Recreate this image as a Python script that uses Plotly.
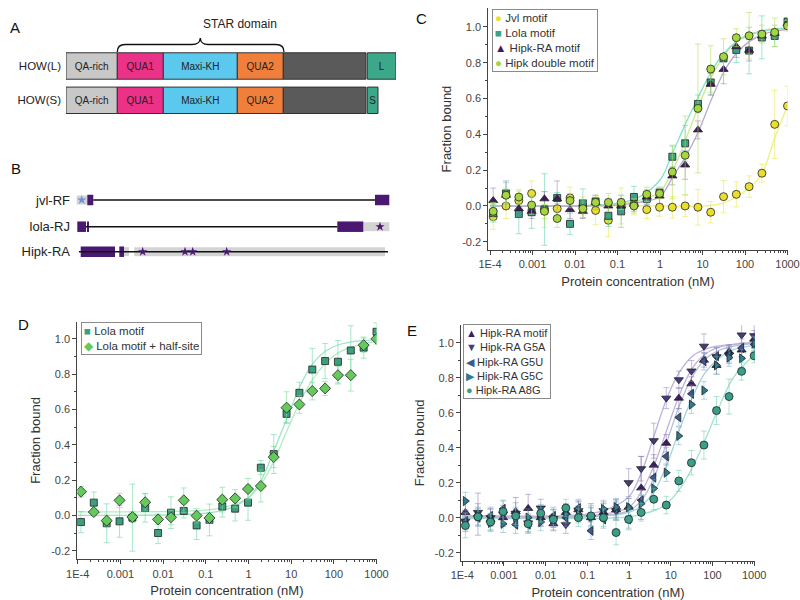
import plotly.graph_objects as go

FONT = "Liberation Sans, Arial, sans-serif"

# ---------------- DATA ----------------
# two-fold dilution series (nM)
CONC = [0.000119, 0.000238, 0.000477, 0.000954, 0.00191, 0.00381, 0.00763, 0.0153,
        0.0305, 0.061, 0.122, 0.244, 0.488, 0.977, 1.95, 3.91, 7.81, 15.6, 31.3,
        62.5, 125, 250, 500, 1000]
X_TICKS = [0.0001, 0.001, 0.01, 0.1, 1, 10, 100, 1000]
X_TICK_TEXT = ["1E-4", "0.001", "0.01", "0.1", "1", "10", "100", "1000"]
Y_TICKS = [-0.2, 0.0, 0.2, 0.4, 0.6, 0.8, 1.0]
Y_TICK_TEXT = ["-0.2", "0.0", "0.2", "0.4", "0.6", "0.8", "1.0"]

# Panel C
C_JVL = [-0.06, 0.0, 0.03, 0.07, -0.02, -0.015, 0.045, 0.0, -0.025, -0.08, 0.0, 0.01,
         -0.02, -0.007, -0.007, 0.0, -0.007, -0.035, 0.052, 0.065, 0.108, 0.183, 0.456, 0.559]
C_JVL_ERR = [0.07, 0.07, 0.05, 0.07, 0.1, 0.05, 0.06, 0.05, 0.08, 0.09, 0.1, 0.06,
             0.05, 0.05, 0.06, 0.06, 0.1, 0.06, 0.09, 0.07, 0.06, 0.05, 0.19, 0.11]
C_LOLA = [-0.04, 0.07, -0.045, -0.035, -0.02, 0.045, -0.1, 0.015, 0.025, -0.055, -0.03, 0.05,
          0.04, 0.075, 0.275, 0.35, 0.57, 0.69, 0.825, 0.872, 0.868, 0.942, 0.95, 1.03]
C_LOLA_ERR = [0.05, 0.06, 0.11, 0.09, 0.2, 0.03, 0.06, 0.08, 0.02, 0.06, 0.09, 0.06,
              0.03, 0.03, 0.06, 0.1, 0.05, 0.07, 0.02, 0.07, 0.13, 0.12, 0.06, 0.02]
C_HIPK = [0.03, 0.06, -0.015, -0.03, 0.04, 0.04, -0.02, -0.03, 0.02, 0.0, 0.0, 0.01,
          0.05, 0.055, 0.168, 0.229, 0.425, 0.68, 0.763, 0.89, 0.87, 0.95, 0.965, 1.02]
C_HIPK_ERR = [0.07, 0.08, 0.05, 0.04, 0.04, 0.1, 0.05, 0.04, 0.04, 0.04, 0.04, 0.04,
              0.04, 0.04, 0.05, 0.08, 0.05, 0.06, 0.08, 0.06, 0.06, 0.03, 0.02, 0.02]
C_DOUBLE = [-0.03, 0.06, 0.05, 0.005, -0.03, -0.07, 0.03, -0.015, 0.02, 0.02, 0.02, 0.0,
            0.065, 0.07, 0.19, 0.283, 0.545, 0.765, 0.834, 0.94, 0.951, 0.96, 0.97, 1.006]
C_DOUBLE_ERR = [0.05, 0.04, 0.04, 0.05, 0.04, 0.05, 0.04, 0.05, 0.04, 0.05, 0.04, 0.04,
                0.04, 0.03, 0.15, 0.22, 0.36, 0.13, 0.1, 0.05, 0.13, 0.05, 0.08, 0.03]

FIT_X = [0.0001, 0.1, 0.32, 1, 2, 4, 8, 16, 32, 63, 126, 316, 1000]
C_LOLA_FIT = [0.0, 0.015, 0.05, 0.145, 0.3, 0.46, 0.61, 0.75, 0.853, 0.918, 0.955, 0.98, 0.992]
C_DOUBLE_FIT = [0.0, 0.01, 0.03, 0.08, 0.2, 0.37, 0.555, 0.72, 0.84, 0.92, 0.96, 0.985, 0.995]
C_HIPK_FIT = [0.0, 0.005, 0.02, 0.052, 0.163, 0.275, 0.415, 0.592, 0.75, 0.853, 0.918, 0.965, 0.987]
JVL_FIT_X = [0.0001, 1, 10, 30, 62, 125, 250, 500, 1000]
C_JVL_FIT = [0.0, 0.0, 0.0, 0.015, 0.05, 0.1, 0.18, 0.38, 0.56]

# Panel D
D_LOLA = [-0.038, 0.072, -0.045, -0.034, -0.013, 0.042, -0.10, 0.015, 0.025, -0.057, -0.026, 0.05,
          0.038, 0.072, 0.27, 0.347, 0.575, 0.694, 0.826, 0.874, 0.87, 0.934, 0.95, 1.04]
D_LOLA_ERR = [0.06, 0.06, 0.11, 0.09, 0.19, 0.08, 0.06, 0.09, 0.04, 0.08, 0.09, 0.06,
              0.07, 0.1, 0.04, 0.11, 0.05, 0.06, 0.12, 0.1, 0.12, 0.14, 0.06, 0.05]
D_HALF = [0.134, 0.019, -0.03, 0.085, -0.01, 0.074, -0.023, -0.011, 0.085, -0.002, -0.015, 0.089,
          0.096, 0.149, 0.166, 0.33, 0.61, 0.628, 0.704, 0.719, 0.794, 0.794, 0.964, 1.0]
D_HALF_ERR = [0.03, 0.02, 0.03, 0.04, 0.03, 0.05, 0.03, 0.04, 0.07, 0.04, 0.03, 0.07,
              0.05, 0.06, 0.09, 0.06, 0.09, 0.05, 0.05, 0.04, 0.05, 0.09, 0.04, 0.03]
D_LOLA_FIT = [0.0, 0.012, 0.035, 0.1, 0.2, 0.37, 0.55, 0.73, 0.86, 0.93, 0.965, 0.985, 0.995]
D_HALF_FIT = [0.02, 0.03, 0.05, 0.1, 0.18, 0.31, 0.48, 0.64, 0.77, 0.86, 0.92, 0.96, 0.985]

# Panel E
E_HIPK = [0.03, 0.02, -0.01, 0.0, 0.035, 0.053, 0.0, -0.035, 0.03, 0.045, 0.0, 0.03,
          0.045, 0.06, 0.17, 0.30, 0.425, 0.683, 0.765, 0.9, 0.87, 0.948, 0.958, 1.02]
E_HIPK_ERR = [0.07, 0.12, 0.06, 0.05, 0.08, 0.08, 0.05, 0.04, 0.05, 0.05, 0.08, 0.05,
              0.06, 0.05, 0.18, 0.06, 0.05, 0.06, 0.04, 0.04, 0.05, 0.04, 0.04, 0.05]
E_G5A = [-0.02, 0.03, 0.0, 0.02, 0.025, -0.03, 0.055, -0.005, -0.04, 0.04, 0.0, 0.04,
         0.04, 0.2, 0.28, 0.44, 0.683, 0.788, 0.838, 0.98, 0.92, 0.93, 1.044, 1.04]
E_G5A_ERR = [0.06, 0.05, 0.05, 0.05, 0.06, 0.05, 0.05, 0.05, 0.05, 0.05, 0.06, 0.05,
             0.05, 0.08, 0.07, 0.1, 0.06, 0.05, 0.06, 0.07, 0.05, 0.05, 0.08, 0.07]
E_G5U = [-0.02, 0.0, 0.01, 0.05, -0.04, -0.04, 0.005, 0.01, 0.0, 0.055, -0.075, -0.01,
         0.05, -0.01, 0.1, 0.229, 0.35, 0.573, 0.708, 0.894, 0.923, 0.93, 0.97, 0.99]
E_G5U_ERR = [0.05, 0.05, 0.05, 0.05, 0.05, 0.05, 0.05, 0.05, 0.05, 0.05, 0.05, 0.05,
             0.05, 0.05, 0.06, 0.06, 0.05, 0.05, 0.05, 0.05, 0.05, 0.04, 0.05, 0.04]
E_G5C = [0.095, 0.01, -0.03, -0.035, 0.0, 0.0, -0.025, -0.005, 0.02, 0.02, 0.005, 0.05,
         0.06, 0.06, 0.08, 0.167, 0.257, 0.467, 0.646, 0.727, 0.87, 0.915, 0.91, 0.996]
E_G5C_ERR = [0.05, 0.05, 0.05, 0.05, 0.05, 0.05, 0.05, 0.05, 0.05, 0.05, 0.05, 0.05,
             0.05, 0.05, 0.05, 0.05, 0.05, 0.05, 0.05, 0.05, 0.05, 0.05, 0.05, 0.04]
E_A8G = [-0.045, 0.005, -0.025, 0.035, 0.01, -0.035, 0.025, -0.01, 0.055, 0.0, 0.01, 0.0,
         -0.085, -0.01, 0.03, 0.105, 0.072, 0.21, 0.314, 0.415, 0.612, 0.692, 0.836, 0.925]
E_A8G_ERR = [0.07, 0.05, 0.05, 0.06, 0.05, 0.05, 0.05, 0.06, 0.05, 0.05, 0.06, 0.05,
             0.07, 0.06, 0.05, 0.06, 0.05, 0.06, 0.07, 0.08, 0.08, 0.1, 0.05, 0.04]
E_HIPK_FIT = [0.01, 0.012, 0.025, 0.06, 0.15, 0.3, 0.5, 0.7, 0.85, 0.93, 0.97, 0.99, 1.0]
E_G5A_FIT = [0.01, 0.02, 0.05, 0.12, 0.26, 0.47, 0.68, 0.83, 0.92, 0.96, 0.98, 0.99, 1.0]
E_G5U_FIT = [0.0, 0.005, 0.015, 0.04, 0.1, 0.23, 0.43, 0.64, 0.8, 0.9, 0.95, 0.98, 0.995]
E_G5C_FIT = [0.005, 0.008, 0.013, 0.03, 0.07, 0.15, 0.3, 0.5, 0.68, 0.82, 0.9, 0.96, 0.985]
E_A8G_FIT = [-0.005, -0.005, -0.003, 0.005, 0.02, 0.04, 0.08, 0.16, 0.28, 0.43, 0.6, 0.8, 0.93]

# Panel A: HOW isoform domain architecture (relative lengths)
HOW_ROWS = ["HOW(L)", "HOW(S)"]
HOW_DOMAINS = ["QA-rich", "QUA1", "Maxi-KH", "QUA2", ""]
HOW_LEN = [51.3, 46, 74, 46, 82.7]
HOW_TAIL = ["L", "S"]
HOW_TAIL_LEN = [28.7, 10.7]
HOW_TAIL_GAP = 1.3

# Panel B: transcripts (relative positions)
TX_NAMES = ["jvl-RF", "lola-RJ", "Hipk-RA"]
TX_ROW = [200, 226.7, 251.7]
TX_INTRON = [(93.3, 375), (86, 337.3), (79, 388)]
TX_CDS = [[(87.3, 93.3), (375, 389.3)],
          [(77.3, 86), (87.6, 88.8), (337.3, 363.3)],
          [(80.7, 115), (119.3, 124)]]
TX_UTR = [[(76.7, 87.3)], [(363.3, 389.3)], [(124, 129), (134.3, 385)]]
TX_STARS = [[81.7], [380], [142.7, 185, 192.7, 226.7]]
TX_STAR_COLOR = ["#6f93d8", "#4a1870", "#4a1870"]

# ---------------- FIGURE ----------------
fig = go.Figure()

MINOR_X = [m * 10.0 ** e for e in range(-4, 3) for m in range(2, 10)]
MINOR_Y = [-0.1, 0.1, 0.3, 0.5, 0.7, 0.9]


def xlog(domain, rng, anchor):
    return dict(domain=domain, anchor=anchor, type="log", range=rng, showline=True,
                linecolor="#444", linewidth=1, ticks="outside", ticklen=4, tickcolor="#444",
                tickmode="array", tickvals=X_TICKS, ticktext=X_TICK_TEXT,
                tickfont=dict(size=11, color="#444", family=FONT), showgrid=False,
                zeroline=False, automargin=False,
                minor=dict(tickmode="array", tickvals=MINOR_X, ticks="outside", ticklen=2,
                           tickcolor="#444"),
                title=dict(text="Protein concentration (nM)",
                           font=dict(size=13, color="#333", family=FONT), standoff=7))


def ylin(domain, rng, anchor):
    return dict(domain=domain, anchor=anchor, range=rng, showline=True, linecolor="#444",
                linewidth=1, ticks="outside", ticklen=4, tickcolor="#444",
                tickmode="array", tickvals=Y_TICKS, ticktext=Y_TICK_TEXT,
                tickfont=dict(size=11, color="#444", family=FONT), showgrid=False,
                zeroline=False, automargin=False,
                minor=dict(tickmode="array", tickvals=MINOR_Y, ticks="outside", ticklen=2,
                           tickcolor="#444"),
                title=dict(text="Fraction bound", font=dict(size=13, color="#333", family=FONT),
                           standoff=7))


def add_fit(xs, ys, color, xa, ya):
    fig.add_trace(go.Scatter(x=xs, y=ys, mode="lines", line=dict(color=color, width=1.3,
                  shape="spline", smoothing=1.0), xaxis=xa, yaxis=ya, showlegend=False,
                  hoverinfo="skip"))


def add_pts(ys, err, name, color, ecolor, symbol, xa, ya, size=8):
    fig.add_trace(go.Scatter(x=CONC, y=ys, name=name, mode="markers",
                  marker=dict(color=color, symbol=symbol, size=size,
                              line=dict(color="#222", width=0.8)),
                  error_y=dict(type="data", array=err, color=ecolor, thickness=1, width=3),
                  xaxis=xa, yaxis=ya, showlegend=False))


# Panel C
add_fit(JVL_FIT_X, C_JVL_FIT, "#eef07c", "x", "y")
add_fit(FIT_X, C_DOUBLE_FIT, "#c4ec88", "x", "y")
add_fit(FIT_X, C_LOLA_FIT, "#84e2cc", "x", "y")
add_fit(FIT_X, C_HIPK_FIT, "#b9a9d2", "x", "y")
add_pts(C_JVL, C_JVL_ERR, "Jvl motif", "#e8df32", "rgba(232,232,80,0.6)", "circle", "x", "y")
add_pts(C_LOLA, C_LOLA_ERR, "Lola motif", "#35a680", "rgba(90,205,175,0.55)", "square", "x", "y", 7)
add_pts(C_HIPK, C_HIPK_ERR, "Hipk-RA motif", "#3f1a63", "rgba(130,100,170,0.45)", "triangle-up", "x", "y")
add_pts(C_DOUBLE, C_DOUBLE_ERR, "Hipk double motif", "#a5d63e", "rgba(180,225,90,0.6)", "circle", "x", "y")

# Panel D
add_fit(FIT_X, D_HALF_FIT, "#b2ecc4", "x2", "y2")
add_fit(FIT_X, D_LOLA_FIT, "#9ce6c6", "x2", "y2")
add_pts(D_LOLA, D_LOLA_ERR, "Lola motif", "#3aa07e", "rgba(110,215,165,0.6)", "square", "x2", "y2", 7)
add_pts(D_HALF, D_HALF_ERR, "Lola motif + half-site", "#64ca5c", "rgba(120,220,150,0.6)", "diamond", "x2", "y2", 8.5)

# Panel E
add_fit(FIT_X, E_A8G_FIT, "#a0e2cf", "x3", "y3")
add_fit(FIT_X, E_G5C_FIT, "#a2d2dc", "x3", "y3")
add_fit(FIT_X, E_G5U_FIT, "#b2bedc", "x3", "y3")
add_fit(FIT_X, E_G5A_FIT, "#bcb2dc", "x3", "y3")
add_fit(FIT_X, E_HIPK_FIT, "#c2b2d8", "x3", "y3")
add_pts(E_HIPK, E_HIPK_ERR, "Hipk-RA motif", "#3e1b62", "rgba(120,90,170,0.45)", "triangle-up", "x3", "y3")
add_pts(E_G5A, E_G5A_ERR, "Hipk-RA G5A", "#463a80", "rgba(120,110,180,0.45)", "triangle-down", "x3", "y3")
add_pts(E_G5U, E_G5U_ERR, "Hipk-RA G5U", "#3b5a8e", "rgba(110,140,190,0.45)", "triangle-left", "x3", "y3")
add_pts(E_G5C, E_G5C_ERR, "Hipk-RA G5C", "#2d7b8e", "rgba(90,170,190,0.45)", "triangle-right", "x3", "y3")
add_pts(E_A8G, E_A8G_ERR, "Hipk-RA A8G", "#3a9f88", "rgba(100,200,170,0.5)", "circle", "x3", "y3")

# Panel A bars
DOMAIN_COLORS = ["#c8c8c8", "#ec3189", "#5bc8ee", "#f07f3c", "#5a5a5a"]
base = 0.0
for name, ln, col in zip(HOW_DOMAINS, HOW_LEN, DOMAIN_COLORS):
    fig.add_trace(go.Bar(y=HOW_ROWS, x=[ln, ln], base=[base, base], orientation="h",
                         width=0.77, marker=dict(color=col, line=dict(color="#333", width=1)),
                         text=[name, name], textposition="inside", insidetextanchor="middle",
                         constraintext="none",
                         insidetextfont=dict(size=10, color="#222", family=FONT),
                         xaxis="x4", yaxis="y4", showlegend=False, hoverinfo="skip"))
    base += ln
tail_base = base + HOW_TAIL_GAP
fig.add_trace(go.Bar(y=HOW_ROWS, x=HOW_TAIL_LEN, base=[tail_base, tail_base], orientation="h",
                     width=0.77, marker=dict(color="#3ba88a", line=dict(color="#333", width=1)),
                     text=HOW_TAIL, textposition="inside", insidetextanchor="middle",
                     constraintext="none",
                     insidetextfont=dict(size=10, color="#222", family=FONT),
                     xaxis="x4", yaxis="y4", showlegend=False, hoverinfo="skip"))

# Panel B transcripts
ix, iy = [], []
for (a, b), r in zip(TX_INTRON, TX_ROW):
    ix += [a, b, None]
    iy += [r, r, None]
fig.add_trace(go.Scatter(x=ix, y=iy, mode="lines", line=dict(color="#111", width=1.6),
                         xaxis="x5", yaxis="y5", showlegend=False, hoverinfo="skip"))
for segs, r in zip(TX_UTR, TX_ROW):
    fig.add_trace(go.Bar(y=[r] * len(segs), x=[b - a for a, b in segs], base=[a for a, b in segs],
                         orientation="h", width=9, marker=dict(color="#d3d3d3", line=dict(width=0)),
                         xaxis="x5", yaxis="y5", showlegend=False, hoverinfo="skip"))
for segs, r in zip(TX_CDS, TX_ROW):
    fig.add_trace(go.Bar(y=[r] * len(segs), x=[b - a for a, b in segs], base=[a for a, b in segs],
                         orientation="h", width=10.5, marker=dict(color="#4a1870", line=dict(width=0)),
                         xaxis="x5", yaxis="y5", showlegend=False, hoverinfo="skip"))
for stars, r, col in zip(TX_STARS, TX_ROW, TX_STAR_COLOR):
    fig.add_trace(go.Scatter(x=stars, y=[r] * len(stars), mode="markers",
                             marker=dict(symbol="star", size=7, color=col, line=dict(width=0)),
                             xaxis="x5", yaxis="y5", showlegend=False, hoverinfo="skip"))


def py(y):
    return 1 - y / 600.0


def px(x):
    return x / 800.0


layout = dict(
    width=800, height=600, margin=dict(l=0, r=0, t=0, b=0), template="none",
    paper_bgcolor="white", plot_bgcolor="rgba(0,0,0,0)", barmode="overlay",
    font=dict(family=FONT, color="#333"),
    xaxis=xlog([px(488.3), px(787.5)], [-4.04, 3.0], "y"),
    yaxis=ylin([py(250), py(8)], [-0.246, 1.106], "x"),
    xaxis2=xlog([px(77.3), px(376.5)], [-4.01, 3.0], "y2"),
    yaxis2=ylin([py(559.3), py(321.7)], [-0.249, 1.097], "x2"),
    xaxis3=xlog([px(461), px(755)], [-4.03, 3.02], "y3"),
    yaxis3=ylin([py(560.7), py(325)], [-0.246, 1.101], "x3"),
    xaxis4=dict(domain=[px(66), px(396)], range=[0, 330], anchor="y4", visible=False),
    yaxis4=dict(domain=[py(117.45), py(48.85)], range=[-0.5, 1.5], anchor="x4", type="category",
                categoryorder="array", categoryarray=["HOW(S)", "HOW(L)"], showline=False,
                ticks="", showgrid=False, zeroline=False, ticklabelstandoff=4,
                tickfont=dict(size=11.5, color="#222", family=FONT)),
    xaxis5=dict(domain=[px(76), px(392)], range=[76, 392], anchor="y5", visible=False),
    yaxis5=dict(domain=[py(268), py(185)], range=[268, 185], anchor="x5", showline=False,
                ticks="", showgrid=False, zeroline=False, tickmode="array", tickvals=TX_ROW,
                ticktext=TX_NAMES, ticklabelstandoff=5,
                tickfont=dict(size=13, color="#222", family=FONT)),
)
fig.update_layout(**layout)

# brace above STAR domain
brace = [(117.3, 52), (117.3, 44.5), (125, 44.5), (192, 44.5), (200, 44.5), (200.3, 38),
         (200.6, 44.5), (208, 44.5), (276, 44.5), (284, 44.5), (284, 52)]
p = [(px(a), py(b)) for a, b in brace]
path = (f"M {p[0][0]},{p[0][1]} Q {p[1][0]},{p[1][1]} {p[2][0]},{p[2][1]} L {p[3][0]},{p[3][1]} "
        f"Q {p[4][0]},{p[4][1]} {p[5][0]},{p[5][1]} Q {p[6][0]},{p[6][1]} {p[7][0]},{p[7][1]} "
        f"L {p[8][0]},{p[8][1]} Q {p[9][0]},{p[9][1]} {p[10][0]},{p[10][1]}")
fig.add_shape(type="path", path=path, xref="paper", yref="paper",
              line=dict(color="#111", width=1.3))

ann = []
ann.append(dict(text="STAR domain", x=px(200.5), y=py(33), xref="paper", yref="paper",
                yanchor="bottom", showarrow=False, font=dict(size=12, color="#222", family=FONT)))
for lab, x, y in [("A", 8, 17), ("B", 9, 158), ("C", 421, 8), ("D", 16, 324), ("E", 412, 330)]:
    ann.append(dict(text=lab, x=px(x), y=py(y), xref="paper", yref="paper", showarrow=False,
                    font=dict(size=15, color="#111", family=FONT)))


def legend_box(entries, x, y, size):
    lines = []
    for glyph, color, name in entries:
        lines.append(f"<span style='color:{color}'>{glyph}</span> {name}")
    return dict(text="<br>".join(lines), x=px(x), y=py(y), xref="paper", yref="paper",
                xanchor="left", yanchor="top", align="left", showarrow=False,
                bordercolor="#8a8a8a", borderwidth=1, borderpad=2, bgcolor="white",
                font=dict(size=size, color="#333", family=FONT))


ann.append(legend_box([("●", "#e8df32", "Jvl motif"), ("■", "#35a680", "Lola motif"),
                       ("▲", "#3f1a63", "Hipk-RA motif"), ("●", "#a5d63e", "Hipk double motif")],
                      491.7, 9.3, 11.5))
ann.append(legend_box([("■", "#3aa07e", "Lola motif"), ("◆", "#64ca5c", "Lola motif + half-site")],
                      80.7, 321.7, 11.5))
ann.append(legend_box([("▲", "#3e1b62", "Hipk-RA motif"), ("▼", "#463a80", "Hipk-RA G5A"),
                       ("◀", "#3b5a8e", "Hipk-RA G5U"), ("▶", "#2d7b8e", "Hipk-RA G5C"),
                       ("●", "#3a9f88", "Hipk-RA A8G")], 463.3, 324.3, 11))
fig.update_layout(annotations=ann)

fig.write_html("out.html")
